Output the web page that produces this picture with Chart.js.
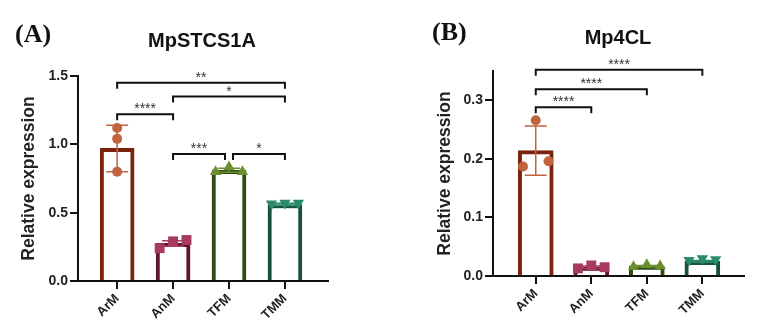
<!DOCTYPE html>
<html>
<head>
<meta charset="utf-8">
<script src="https://cdn.jsdelivr.net/npm/chart.js@4.4.1/dist/chart.umd.min.js"></script>
<style>
  body { margin: 0; background: #fff; width: 761px; height: 335px; position: relative; overflow: hidden; font-family: 'Liberation Sans', Arial, sans-serif; }
  .panel { position: absolute; top: 0; height: 335px; }
  .tag { position: absolute; font-family: 'Liberation Serif', 'Times New Roman', serif; font-weight: bold; font-size: 26px; line-height: 26px; color: #111; }
  .ttl { position: absolute; width: 200px; text-align: center; font-weight: bold; font-size: 20px; line-height: 20px; color: #111; }
</style>
</head>
<body>
<div class="panel" style="left:0;width:380px"><canvas id="chartA" width="380" height="335"></canvas></div>
<div class="panel" style="left:380px;width:381px"><canvas id="chartB" width="381" height="335"></canvas></div>
<div class="tag" style="left:15px;top:21px">(A)</div>
<div class="ttl" style="left:102px;top:30px">MpSTCS1A</div>
<div class="tag" style="left:432px;top:19px">(B)</div>
<div class="ttl" style="left:518px;top:27px">Mp4CL</div>
<script>
// groups
var categories = ['ArM', 'AnM', 'TFM', 'TMM'];

// panel A : MpSTCS1A
var meanA = [0.97, 0.275, 0.81, 0.56];
var sdA = [0.17, 0.02, 0.015, 0.008];
var pointsA = [[1.12, 1.04, 0.80], [0.24, 0.29, 0.30], [0.80, 0.835, 0.80], [0.565, 0.57, 0.57]];
var ticksA = [0, 0.5, 1.0, 1.5];
var bracketsA = [[0, 3, 1.45, '**'], [1, 3, 1.35, '*'], [0, 1, 1.22, '****'], [1, 2, 0.93, '***'], [2, 3, 0.93, '*']];

// panel B : Mp4CL
var meanB = [0.214, 0.015, 0.017, 0.025];
var sdB = [0.042, 0.002, 0.001, 0.0015];
var pointsB = [[0.187, 0.266, 0.196], [0.013, 0.018, 0.015], [0.016, 0.019, 0.017], [0.027, 0.030, 0.028]];
var ticksB = [0, 0.1, 0.2, 0.3];
var bracketsB = [[0, 3, 0.352, '****'], [0, 2, 0.319, '****'], [0, 1, 0.288, '****']];

// styles
var borderColors = ['#7a2410', '#5e1434', '#2f4a17', '#18503f'];
var dotColors = ['#c0633f', '#a8395f', '#6b8f2e', '#2a8b6c'];
var dotStyles = ['circle', 'rect', 'triangle', 'triangle'];
var dotRotation = [0, 0, 0, 180];

function makeChart(id, mean, sd, points, ticks, brackets, o) {
    var barData = mean.map(function(v, i) { return {x: i, y: v}; });
    var scatter = [];
    points.forEach(function(arr, i) {
        var pts = arr.map(function(v, k) { return {x: i + (k - 1) * o.spread[i], y: v}; });
        scatter.push({
            type: 'scatter',
            data: pts,
            pointStyle: dotStyles[i],
            rotation: dotRotation[i],
            radius: o.dotR[i],
            backgroundColor: dotColors[i],
            borderColor: dotColors[i],
            borderWidth: 0,
            order: 0
        });
    });

    var errPlugin = {
        id: 'err',
        afterDatasetDraw: function(chart, args) {
            if (args.index !== 0) return;
            var ctx = chart.ctx, xs = chart.scales.x, ys = chart.scales.y;
            ctx.save();
            mean.forEach(function(m, i) {
                var x = xs.getPixelForValue(i);
                var t = ys.getPixelForValue(m + sd[i]);
                var b = ys.getPixelForValue(m - sd[i]);
                ctx.strokeStyle = dotColors[i];
                ctx.lineWidth = 1.5;
                ctx.beginPath();
                ctx.moveTo(x, t); ctx.lineTo(x, b);
                ctx.moveTo(x - 11, t); ctx.lineTo(x + 11, t);
                ctx.moveTo(x - 11, b); ctx.lineTo(x + 11, b);
                ctx.stroke();
            });
            ctx.restore();
        }
    };

    var bracketPlugin = {
        id: 'brackets',
        afterDraw: function(chart) {
            var ctx = chart.ctx, xs = chart.scales.x, ys = chart.scales.y;
            ctx.save();
            ctx.strokeStyle = '#111';
            ctx.lineWidth = 2;
            ctx.fillStyle = '#333';
            ctx.font = '14px "Liberation Sans", Arial, sans-serif';
            ctx.textAlign = 'center';
            ctx.textBaseline = 'alphabetic';
            brackets.forEach(function(br) {
                var x1 = xs.getPixelForValue(br[0]);
                var x2 = xs.getPixelForValue(br[1]);
                // shorten when an adjacent bracket shares the same end at the same height
                brackets.forEach(function(other) {
                    if (other === br || other[2] !== br[2]) return;
                    if (other[1] === br[0]) x1 += 4;
                    if (other[0] === br[1]) x2 -= 4;
                });
                var y = ys.getPixelForValue(br[2]);
                ctx.beginPath();
                ctx.moveTo(x1, y + 6);
                ctx.lineTo(x1, y);
                ctx.lineTo(x2, y);
                ctx.lineTo(x2, y + 6);
                ctx.stroke();
                ctx.fillText(br[3], (x1 + x2) / 2, y - 1);
            });
            ctx.restore();
        }
    };

    return new Chart(document.getElementById(id), {
        type: 'bar',
        data: {
            datasets: [{
                type: 'bar',
                data: barData,
                backgroundColor: '#ffffff',
                borderColor: borderColors,
                borderWidth: 4,
                borderSkipped: 'start',
                barThickness: o.barW,
                order: 1
            }].concat(scatter)
        },
        options: {
            responsive: false,
            animation: false,
            events: [],
            layout: { padding: o.pad },
            plugins: { legend: { display: false }, tooltip: { enabled: false } },
            scales: {
                x: {
                    type: 'linear',
                    min: o.xMin,
                    max: o.xMax,
                    offset: false,
                    afterFit: function(s) { s.height = o.xH; },
                    border: { display: true, color: '#111', width: 2 },
                    grid: { display: true, offset: false, drawOnChartArea: false, drawTicks: true, tickLength: 8, color: '#111', lineWidth: 2 },
                    afterBuildTicks: function(s) { s.ticks = categories.map(function(c, i) { return {value: i}; }); },
                    ticks: {
                        autoSkip: false,
                        maxRotation: 45,
                        minRotation: 45,
                        padding: 2,
                        color: '#222',
                        font: { family: '"Liberation Sans", Arial, sans-serif', size: 13, weight: 'bold' },
                        callback: function(v) { return categories[v]; }
                    }
                },
                y: {
                    min: 0,
                    max: o.yMax,
                    afterFit: function(s) { s.width = o.yW; },
                    afterBuildTicks: function(s) { s.ticks = ticks.map(function(t) { return {value: t}; }); },
                    border: { display: true, color: '#111', width: 2 },
                    grid: { display: true, drawOnChartArea: false, drawTicks: true, tickLength: 8, color: '#111', lineWidth: 2 },
                    ticks: {
                        padding: 2,
                        color: '#222',
                        font: { family: '"Liberation Sans", Arial, sans-serif', size: 14, weight: 'bold' },
                        callback: function(v) { return v.toFixed(1); }
                    },
                    title: {
                        display: true,
                        text: 'Relative expression',
                        color: '#222',
                        padding: { top: 4, bottom: 4 },
                        font: { family: '"Liberation Sans", Arial, sans-serif', size: 17.5, weight: 'bold' }
                    }
                }
            }
        },
        plugins: [errPlugin, bracketPlugin]
    });
}

makeChart('chartA', meanA, sdA, pointsA, ticksA, bracketsA, {
    pad: { left: 15, top: 76, right: 52, bottom: 0 },
    yW: 63, xH: 54, yMax: 1.5,
    xMin: -0.70, xMax: 3.77,
    barW: 34,
    spread: [0, 0.24, 0.24, 0.24],
    dotR: [5, 7, 6.5, 6.5]
});

makeChart('chartB', meanB, sdB, pointsB, ticksB, bracketsB, {
    pad: { left: 51, top: 71, right: 17, bottom: 0 },
    yW: 62, xH: 59, yMax: 0.35,
    xMin: -0.77, xMax: 3.75,
    barW: 35,
    spread: [0.23, 0.24, 0.24, 0.24],
    dotR: [5, 7, 6.5, 6.5]
});
</script>
</body>
</html>
